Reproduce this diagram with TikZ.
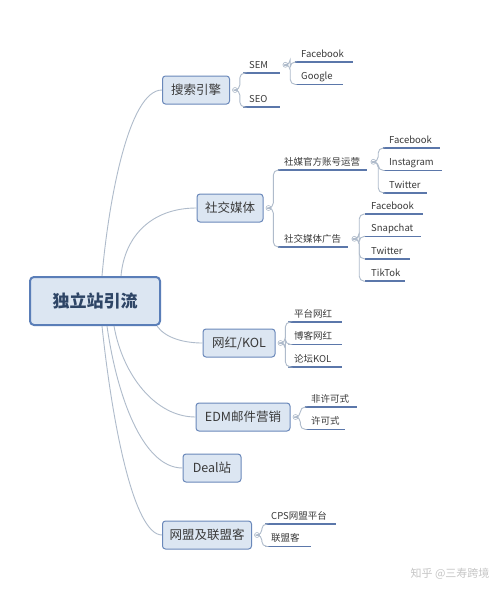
\documentclass[tikz,border=0pt]{standalone}
\usepackage{fontspec}
\newfontfamily\cjk{Noto Sans CJK SC}
\usetikzlibrary{positioning, calc}

\definecolor{boxfill}{HTML}{DCE6F2}
\definecolor{boxdraw}{HTML}{6A88BA}
\definecolor{rootdraw}{HTML}{5A7EB8}
\definecolor{conn}{HTML}{AFBBCB}
\definecolor{ulinecol}{HTML}{5B77AA}
\definecolor{txt}{HTML}{3A3A3A}
\definecolor{roottxt}{HTML}{2E4566}

\tikzset{
  leaf/.style={text width=#1, align=left, anchor=south west, inner xsep=6pt, inner ysep=2.5pt,
    text height=7pt, text depth=2pt, font=\cjk\fontsize{9.5}{11}\selectfont, text=txt}
}

\begin{document}
\begin{tikzpicture}[x=1pt, y=1pt]
        % Styles
        \tikzstyle{root} = [rectangle, draw=rootdraw, fill=boxfill, rounded corners=4pt, line width=2pt, minimum width=130pt, minimum height=48pt, font=\cjk\fontsize{17}{20}\selectfont\bfseries, text=roottxt]
        \tikzstyle{topic} = [rectangle, draw=boxdraw, fill=boxfill, rounded corners=3pt, line width=1pt, minimum height=28pt, inner xsep=0pt, font=\cjk\fontsize{12.5}{15}\selectfont, text=txt]
        \tikzstyle{circ} = [circle, draw=conn, fill=white, minimum size=5pt, inner sep=0pt, line width=0.6pt,
          path picture={\draw[conn, line width=0.5pt] ($(path picture bounding box.west)+(1.2pt,0)$) -- ($(path picture bounding box.east)+(-1.2pt,0)$);}]
        \tikzstyle{branch} = [draw=conn, line width=0.9pt]
        \tikzstyle{fork} = [draw=conn, line width=0.9pt, rounded corners=5pt]
        \tikzstyle{uline} = [draw=ulinecol, line width=1.7pt]

        \path[use as bounding box, fill=white] (0,0) rectangle (500,-594);

        % Main topics
        \node (root) [root] at (95,-301) {独立站引流};
        \node (search) [topic, minimum width=67pt] at (196,-90) {搜索引擎};
        \node (social) [topic, minimum width=66pt] at (230,-208) {社交媒体};
        \node (kol) [topic, minimum width=72pt] at (239,-343) {网红/KOL};
        \node (edm) [topic, minimum width=94pt] at (243,-417) {EDM邮件营销};
        \node (deal) [topic, minimum width=58pt] at (212,-468) {Deal站};
        \node (affil) [topic, minimum width=89pt] at (207,-535) {网盟及联盟客};

        % Branches from the root
        \path [branch] ($(root.north west)+(73,0)$) to [out=85, in=180, out distance=77pt, in distance=33pt] (search.west);
        \path [branch] ($(root.north west)+(92,0)$) to [out=85, in=180, out distance=40pt, in distance=45pt] (social.west);
        \path [branch] ($(root.south east)+(-4,0)$) to [out=-55, in=180, out distance=15pt, in distance=18pt] (kol.west);
        \path [branch] ($(root.south west)+(85,0)$) to [out=-80, in=180, out distance=50pt, in distance=40pt] (edm.west);
        \path [branch] ($(root.south west)+(78,0)$) to [out=-82, in=180, out distance=70pt, in distance=40pt] (deal.west);
        \path [branch] ($(root.south west)+(73,0)$) to [out=-84, in=180, out distance=100pt, in distance=28pt] (affil.west);

        % Sub topics
        \node (sem) [leaf=25pt] at (243,-73) {SEM};
        \node (seo) [leaf=25pt] at (243,-107) {SEO};
        \node (fb1) [leaf=46pt] at (295,-62) {Facebook};
        \node (google) [leaf=36pt, below=8pt of fb1.south west, anchor=north west] {Google};

        \node (smops) [leaf=77pt] at (278,-170) {社媒官方账号运营};
        \node (smads) [leaf=58pt] at (278,-247) {社交媒体广告};
        \node (fb2) [leaf=45pt] at (383,-148) {Facebook};
        \node (insta) [leaf=47pt, below=8pt of fb2.south west, anchor=north west] {Instagram};
        \node (tw1) [leaf=32pt, below=8pt of insta.south west, anchor=north west] {Twitter};
        \node (fb3) [leaf=46pt] at (365,-214) {Facebook};
        \node (snap) [leaf=44pt, below=8pt of fb3.south west, anchor=north west] {Snapchat};
        \node (tw2) [leaf=33pt, below=8pt of snap.south west, anchor=north west] {Twitter};
        \node (tiktok) [leaf=28pt, below=8pt of tw2.south west, anchor=north west] {TikTok};

        \node (kol1) [leaf=42pt] at (288,-322) {平台网红};
        \node (kol2) [leaf=42pt, below=8pt of kol1.south west, anchor=north west] {博客网红};
        \node (kol3) [leaf=42pt, below=8pt of kol2.south west, anchor=north west] {论坛KOL};

        \node (edm1) [leaf=40pt] at (305,-407) {非许可式};
        \node (edm2) [leaf=28pt, below=8pt of edm1.south west, anchor=north west] {许可式};

        \node (aff1) [leaf=59pt] at (265,-524) {CPS网盟平台};
        \node (aff2) [leaf=34pt, below=8pt of aff1.south west, anchor=north west] {联盟客};

        % Collapse marks
        \node (searchc) [circ] at ($(search.east)+(5,0)$) {};
        \node (socialc) [circ] at ($(social.east)+(5,0)$) {};
        \node (kolc) [circ] at ($(kol.east)+(5,0)$) {};
        \node (edmc) [circ] at ($(edm.east)+(5,0)$) {};
        \node (affilc) [circ] at ($(affil.east)+(5,0)$) {};
        \node (semc) [circ] at ($(sem.east)+(5,1)$) {};
        \node (smopsc) [circ] at ($(smops.east)+(6,1)$) {};
        \node (smadsc) [circ] at ($(smads.east)+(6,1)$) {};

        % Underlines
        \foreach \n in {sem, seo, fb1, google, smops, smads, fb2, insta, tw1, fb3, snap, tw2, tiktok, kol1, kol2, kol3, edm1, edm2, aff1, aff2}
          \path [uline] (\n.south west) -- (\n.south east);

        % Forks
        \foreach \c/\n in {searchc/sem, searchc/seo, semc/fb1, semc/google, socialc/smops, socialc/smads,
            smopsc/fb2, smopsc/insta, smopsc/tw1, smadsc/fb3, smadsc/snap, smadsc/tw2, smadsc/tiktok,
            kolc/kol1, kolc/kol2, kolc/kol3, edmc/edm1, edmc/edm2, affilc/aff1, affilc/aff2}
          \path [fork] (\c.east) -- ++(2,0) |- (\n.south west);

        % Watermark
        \node (mark) [anchor=east, font=\cjk\fontsize{11}{13}\selectfont, text=gray!45] at (493,-574) {知乎 @三寿跨境};

    \end{tikzpicture}
\end{document}
